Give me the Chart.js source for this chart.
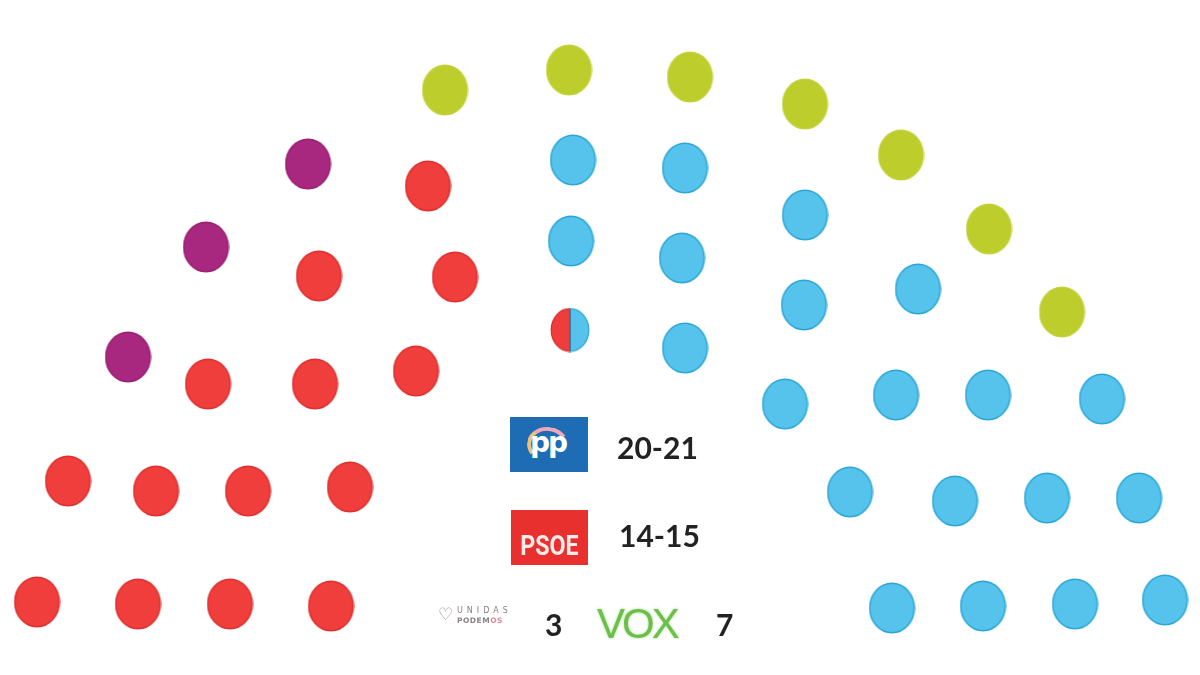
<!DOCTYPE html>
<html>
<head>
<meta charset="utf-8">
<script src="https://cdn.jsdelivr.net/npm/chart.js@4/dist/chart.umd.min.js"></script>
<style>
  html,body{margin:0;padding:0;background:#fff;}
  #wrap{position:relative;width:1200px;height:675px;overflow:hidden;}
  #c{position:absolute;left:0;top:0;}
  .num{position:absolute;font-family:Lato,"Open Sans",sans-serif;font-weight:700;font-size:30px;color:#222;line-height:1;}
  #pp{position:absolute;left:510px;top:417px;width:78px;height:55px;background:#1e6cb3;}
  #pp .t{position:absolute;left:20px;top:12px;font-family:"DejaVu Sans",sans-serif;font-weight:700;font-size:28px;color:#fff;letter-spacing:-2px;line-height:1;}
  #pp .arc{position:absolute;left:17px;top:10px;width:34px;height:28px;border-radius:50%;border:4px solid transparent;border-top-color:#f0a8b8;border-left-color:#f0bf80;transform:rotate(10deg);}
  #psoe{position:absolute;left:511px;top:510px;width:77px;height:55px;background:#e8312f;}
  #psoe .t{position:absolute;left:0;width:77px;bottom:5px;text-align:center;font-family:"Roboto","DejaVu Sans Condensed",sans-serif;font-weight:700;font-size:27px;color:#fbecea;line-height:1;transform:scaleX(0.86);}
  #up{position:absolute;left:438px;top:605px;width:75px;height:22px;}
  #up .h{position:absolute;left:0;top:1px;font-size:17px;color:#9a8d90;line-height:1;font-family:"DejaVu Sans",sans-serif;}
  #up .a{position:absolute;left:19px;top:2px;font-family:"DejaVu Sans",sans-serif;font-size:8px;letter-spacing:4px;color:#8a8083;line-height:1;}
  #up .b{position:absolute;left:19px;top:12px;font-family:"DejaVu Sans",sans-serif;font-weight:700;font-size:7.5px;letter-spacing:0.5px;color:#8a8083;line-height:1;}
  #up .b span{color:#d98a98;}
  #vox{position:absolute;left:597px;top:603px;font-family:"Liberation Sans","DejaVu Sans",sans-serif;font-size:42px;color:#6cbf4a;line-height:1;letter-spacing:-3px;text-shadow:0 0 3px #a8dc8f;}
</style>
</head>
<body>
<div id="wrap">
  <canvas id="c" width="1200" height="675"></canvas>
  <div id="pp"><div class="arc"></div><div class="t">pp</div></div>
  <div class="num" id="n0" style="left:617px;top:432px;"></div>
  <div id="psoe"><div class="t">PSOE</div></div>
  <div class="num" id="n1" style="left:619px;top:520px;"></div>
  <div id="up"><div class="h">♡</div><div class="a">UNIDAS</div><div class="b">PODEM<span>OS</span></div></div>
  <div class="num" id="n2" style="left:545px;top:609px;"></div>
  <div id="vox">VOX</div>
  <div class="num" id="n3" style="left:716px;top:609px;"></div>
</div>
<script>
// ---- data ----
const parties = ["PP", "PSOE", "Unidas Podemos", "VOX"];
const seatLabels = ["20-21", "14-15", "3", "7"];

const ppX = [573, 571, 685, 682, 685, 805, 804, 918, 785, 896, 988, 1102, 850, 955, 1047, 1139, 892, 983, 1075, 1165];
const ppY = [160, 241, 168, 258, 348, 215, 305, 289, 404, 395, 395, 399, 492, 501, 498, 498, 608, 606, 604, 600];

const psoeX = [428, 455, 319, 416, 315, 208, 68, 156, 248, 350, 37, 138, 230, 331];
const psoeY = [186, 277, 276, 371, 384, 384, 481, 491, 491, 487, 602, 604, 604, 606];

const upX = [308, 206, 128];
const upY = [164, 247, 357];

const voxX = [445, 569, 690, 805, 901, 989, 1062];
const voxY = [90, 70, 77, 104, 155, 229, 312];

const disputedX = [570];
const disputedY = [330];

// ---- styles ----
function ellipse(fill, stroke, w, h) {
  const c = document.createElement('canvas');
  c.width = w; c.height = h;
  const g = c.getContext('2d');
  g.beginPath();
  g.ellipse(w / 2, h / 2, w / 2 - 1.2, h / 2 - 1.2, 0, 0, Math.PI * 2);
  g.fillStyle = fill; g.fill();
  g.lineWidth = 1.5; g.strokeStyle = stroke; g.stroke();
  return c;
}
function split(w, h) {
  const c = document.createElement('canvas');
  c.width = w; c.height = h;
  const g = c.getContext('2d');
  const rx = w / 2 - 1.2, ry = h / 2 - 1.2;
  g.beginPath(); g.ellipse(w/2, h/2, rx, ry, 0, Math.PI/2, Math.PI*1.5); g.closePath();
  g.fillStyle = '#ee3d3b'; g.fill(); g.strokeStyle = '#d92c2c'; g.lineWidth = 1.2; g.stroke();
  g.beginPath(); g.ellipse(w/2, h/2, rx, ry, 0, -Math.PI/2, Math.PI/2); g.closePath();
  g.fillStyle = '#56c3ec'; g.fill(); g.strokeStyle = '#2aa6d6'; g.stroke();
  g.beginPath(); g.moveTo(w/2, 1.5); g.lineTo(w/2, h - 1.5);
  g.strokeStyle = '#2f6f9a'; g.lineWidth = 1.5; g.stroke();
  return c;
}
const W = 47, H = 52;
const imgPP = ellipse('#56c3ec', '#2aa6d6', W, H);
const imgPSOE = ellipse('#ef3e3b', '#e02f2f', W, H);
const imgUP = ellipse('#a9287f', '#9a1f73', W, H);
const imgVOX = ellipse('#bccd2c', '#c3d23a', W, H);
const imgSplit = split(40, 45);

function pts(xs, ys) { return xs.map((x, i) => ({ x: x, y: ys[i] })); }

function ds(label, xs, ys, img) {
  return { label: label, data: pts(xs, ys), pointStyle: img, pointRadius: 23, pointHoverRadius: 23, clip: false, showLine: false };
}

new Chart(document.getElementById('c'), {
  type: 'scatter',
  data: {
    datasets: [
      ds(parties[0], ppX, ppY, imgPP),
      ds(parties[1], psoeX, psoeY, imgPSOE),
      ds(parties[2], upX, upY, imgUP),
      ds(parties[3], voxX, voxY, imgVOX),
      ds('PP / PSOE', disputedX, disputedY, imgSplit)
    ]
  },
  options: {
    responsive: false,
    animation: false,
    events: [],
    layout: { padding: 0, autoPadding: false },
    plugins: { legend: { display: false }, tooltip: { enabled: false } },
    scales: {
      x: { type: 'linear', min: 0, max: 1200, display: false },
      y: { type: 'linear', min: 0, max: 675, reverse: true, display: false }
    }
  }
});

seatLabels.forEach((s, i) => { document.getElementById('n' + i).textContent = s; });
</script>
</body>
</html>
